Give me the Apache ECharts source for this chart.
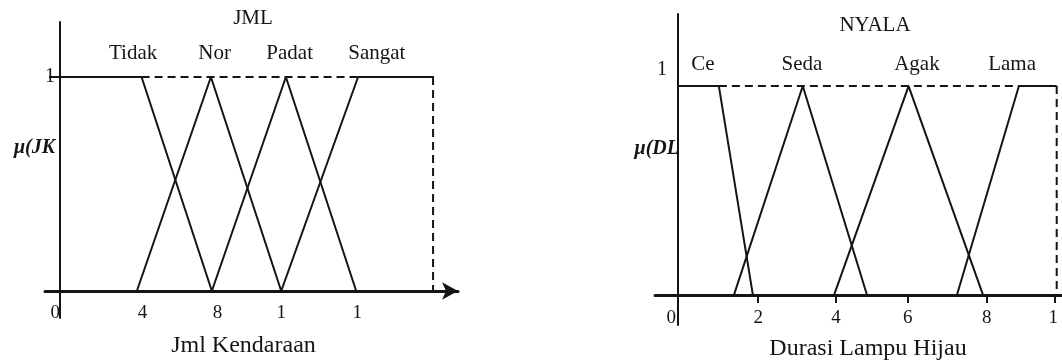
<!DOCTYPE html>
<html>
<head>
<meta charset="utf-8">
<script src="https://cdn.jsdelivr.net/npm/echarts@6/dist/echarts.min.js"></script>
<style>
  html, body { margin: 0; padding: 0; background: #ffffff; }
  #main { width: 1062px; height: 364px; }
</style>
</head>
<body>
<div id="main"></div>
<script>
// ---- JML (Jml Kendaraan) membership functions ----
var jmlTidak  = [[0, 1], [4.35, 1], [8.1, 0]];
var jmlNor    = [[4.1, 0], [8.05, 1], [11.8, 0]];
var jmlPadat  = [[8.1, 0], [12.05, 1], [15.8, 0]];
var jmlSangat = [[11.8, 0], [15.9, 1], [19.95, 1]];
var jmlDashTop = [[4.35, 1], [15.9, 1]];
var jmlDashEnd = [[19.9, 1], [19.9, 0]];
var jmlTerms = ['Tidak', 'Nor', 'Padat', 'Sangat'];
var jmlTermX = [3.9, 8.25, 12.25, 16.9];
var jmlTickValues = [-0.25, 4.4, 8.4, 11.8, 15.85];
var jmlTickLabels = ['0', '4', '8', '1', '1'];

// ---- NYALA (Durasi Lampu Hijau) membership functions ----
var nyalaCe   = [[0, 1], [1.08, 1], [1.98, 0]];
var nyalaSeda = [[1.48, 0], [3.3, 1], [5.0, 0]];
var nyalaAgak = [[4.13, 0], [6.1, 1], [8.07, 0]];
var nyalaLama = [[7.38, 0], [9.02, 1], [10.02, 1]];
var nyalaDashTop = [[1.08, 1], [9.02, 1]];
var nyalaDashEnd = [[10.02, 1], [10.02, 0]];
var nyalaTerms = ['Ce', 'Seda', 'Agak', 'Lama'];
var nyalaTermX = [0.66, 3.28, 6.32, 8.84];
var nyalaTickValues = [2.12, 4.18, 6.08, 8.17, 9.97];
var nyalaLabelValues = [-0.18, 2.12, 4.18, 6.08, 8.17, 9.93];
var nyalaLabelTexts = ['0', '2', '4', '6', '8', '1'];

var ink = '#151515';
var serif = '"Liberation Serif", "DejaVu Serif", serif';

function pick(values, texts) {
  return function (v) {
    var best = 0;
    for (var i = 1; i < values.length; i++) {
      if (Math.abs(values[i] - v) < Math.abs(values[best] - v)) best = i;
    }
    return texts[best];
  };
}

function mfLine(name, data, idx) {
  return {
    name: name, type: 'line', xAxisIndex: idx, yAxisIndex: idx,
    data: data, showSymbol: false, silent: true, animation: false,
    lineStyle: { color: ink, width: 2 }
  };
}
function dashLine(name, data, idx) {
  return {
    name: name, type: 'line', xAxisIndex: idx, yAxisIndex: idx,
    data: data, showSymbol: false, silent: true, animation: false,
    lineStyle: { color: ink, width: 2, type: [8, 5] }
  };
}
function termLabels(names, xs, y, idx) {
  return {
    type: 'scatter', xAxisIndex: idx, yAxisIndex: idx, silent: true,
    symbolSize: 1, itemStyle: { color: 'rgba(0,0,0,0)' }, animation: false,
    data: names.map(function (n, i) { return { name: n, value: [xs[i], y] }; }),
    label: {
      show: true, position: 'inside', formatter: '{b}', opacity: 1,
      textBorderWidth: 0, fontFamily: serif, fontSize: 21, color: ink
    }
  };
}
function plainText(text, x, y, align, style) {
  return {
    text: text, left: x, top: y, padding: 0, textAlign: align, textVerticalAlign: 'middle',
    textStyle: Object.assign({ fontFamily: serif, fontSize: 21, fontWeight: 'normal', color: ink }, style || {})
  };
}

var chart = echarts.init(document.getElementById('main'));
var muStyle = { fontSize: 20, fontWeight: 'bold', fontStyle: 'italic' };
var option = {
  backgroundColor: '#ffffff',
  animation: false,
  title: [
    plainText('JML', 253, 18, 'center'),
    plainText('NYALA', 875, 25, 'center'),
    plainText('μ(JK', 55, 148, 'right', muStyle),
    plainText('μ(DL', 679, 149, 'right', muStyle)
  ],
  grid: [
    { left: 45, top: 22, width: 413, height: 296, outerBoundsMode: 'none', containLabel: false },
    { left: 655, top: 14, width: 407, height: 311, outerBoundsMode: 'none', containLabel: false }
  ],
  xAxis: [
    {
      gridIndex: 0, type: 'value', min: -0.8, max: 21.23,
      splitLine: { show: false },
      axisLine: { onZero: true, symbol: ['none', 'arrow'], symbolSize: [13, 16],
        lineStyle: { color: ink, width: 3 } },
      axisTick: { show: false },
      axisLabel: { customValues: jmlTickValues, formatter: pick(jmlTickValues, jmlTickLabels),
        margin: -14, fontFamily: serif, fontSize: 19, color: ink },
      name: 'Jml Kendaraan', nameLocation: 'middle', nameGap: 16, nameMoveOverlap: false,
      nameTextStyle: { fontFamily: serif, fontSize: 24, color: ink, padding: [0, 16, 0, 0] }
    },
    {
      gridIndex: 1, type: 'value', min: -0.61, max: 10.16,
      splitLine: { show: false },
      axisLine: { onZero: true, lineStyle: { color: ink, width: 3 } },
      axisTick: { show: true, customValues: nyalaTickValues, length: 8,
        lineStyle: { color: ink, width: 2 } },
      axisLabel: { customValues: nyalaLabelValues, formatter: pick(nyalaLabelValues, nyalaLabelTexts),
        margin: -16, fontFamily: serif, fontSize: 19, color: ink },
      name: 'Durasi Lampu Hijau', nameLocation: 'middle', nameGap: 12, nameMoveOverlap: false,
      nameTextStyle: { fontFamily: serif, fontSize: 24, color: ink, padding: [0, 0, 0, 19] }
    }
  ],
  yAxis: [
    {
      gridIndex: 0, type: 'value', min: -0.126, max: 1.257,
      splitLine: { show: false },
      axisLine: { show: true, onZero: true, lineStyle: { color: ink, width: 2 } },
      axisTick: { show: true, customValues: [1], length: 11, lineStyle: { color: ink, width: 2 } },
      axisLabel: { customValues: [1], formatter: '1', margin: -10,
        fontFamily: serif, fontSize: 20, color: ink }
    },
    {
      gridIndex: 1, type: 'value', min: -0.144, max: 1.345,
      splitLine: { show: false },
      axisLine: { show: true, onZero: true, lineStyle: { color: ink, width: 2 } },
      axisTick: { show: false },
      axisLabel: { customValues: [1.077], formatter: '1', margin: -12,
        fontFamily: serif, fontSize: 20, color: ink }
    }
  ],
  series: [
    mfLine('Tidak', jmlTidak, 0),
    mfLine('Nor', jmlNor, 0),
    mfLine('Padat', jmlPadat, 0),
    mfLine('Sangat', jmlSangat, 0),
    dashLine('jmlTop', jmlDashTop, 0),
    dashLine('jmlEnd', jmlDashEnd, 0),
    termLabels(jmlTerms, jmlTermX, 1.11, 0),

    mfLine('Ce', nyalaCe, 1),
    mfLine('Seda', nyalaSeda, 1),
    mfLine('Agak', nyalaAgak, 1),
    mfLine('Lama', nyalaLama, 1),
    dashLine('nyalaTop', nyalaDashTop, 1),
    dashLine('nyalaEnd', nyalaDashEnd, 1),
    termLabels(nyalaTerms, nyalaTermX, 1.105, 1)
  ]
};
chart.setOption(option);
</script>
</body>
</html>
